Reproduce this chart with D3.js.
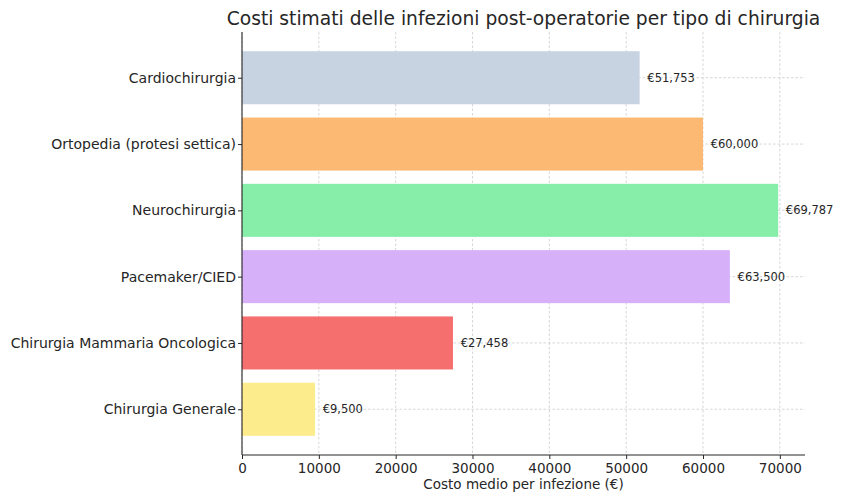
<!DOCTYPE html>
<html>
<head>
<meta charset="utf-8">
<script src="https://cdn.jsdelivr.net/npm/d3@7"></script>
<style>
  body { margin: 0; background: #fff; }
  svg text { font-family: "DejaVu Sans", sans-serif; fill: #262626; }
</style>
</head>
<body>
<div id="chart"></div>
<script>
// data
var categories = ["Cardiochirurgia", "Ortopedia (protesi settica)", "Neurochirurgia",
  "Pacemaker/CIED", "Chirurgia Mammaria Oncologica", "Chirurgia Generale"];
var costs = [51753, 60000, 69787, 63500, 27458, 9500];
var barColors = ["#c8d3e1", "#fbb974", "#87eeaa", "#d6b1fa", "#f56f6f", "#fdec8b"];
var xTicks = [0, 10000, 20000, 30000, 40000, 50000, 60000, 70000];

var width = 846, height = 493;
var mLeft = 242, mRight = 805, mTop = 32, mBottom = 455;

var svg = d3.select("#chart").append("svg")
  .attr("width", width)
  .attr("height", height);

// x scale with matplotlib-like 5% margin on the right
var xMax = d3.max(costs) * 1.05;
var x = d3.scaleLinear().domain([0, xMax]).range([mLeft, mRight]);

// y positions as in barh: index 0 at the top, bar height 0.8
var n = categories.length;
var pad = 0.05 * (n - 0.2);
var y = d3.scaleLinear().domain([-0.4 - pad, n - 1 + 0.4 + pad]).range([mTop, mBottom]);
var barH = y(0.8) - y(0);

// grid
svg.append("g").selectAll("line").data(xTicks).enter().append("line")
  .attr("x1", d => x(d)).attr("x2", d => x(d))
  .attr("y1", mTop).attr("y2", mBottom)
  .attr("stroke", "#c4c4c4").attr("stroke-width", 0.7)
  .attr("stroke-dasharray", "2.5,2");

svg.append("g").selectAll("line").data(categories).enter().append("line")
  .attr("x1", mLeft).attr("x2", mRight)
  .attr("y1", (d, i) => y(i)).attr("y2", (d, i) => y(i))
  .attr("stroke", "#c4c4c4").attr("stroke-width", 0.7)
  .attr("stroke-dasharray", "2.5,2");

// bars
svg.append("g").selectAll("rect").data(costs).enter().append("rect")
  .attr("x", x(0))
  .attr("y", (d, i) => y(i) - barH / 2)
  .attr("width", d => x(d) - x(0))
  .attr("height", barH)
  .attr("fill", (d, i) => barColors[i]);

// value labels
svg.append("g").selectAll("text").data(costs).enter().append("text")
  .attr("x", d => x(d + 1000))
  .attr("y", (d, i) => y(i))
  .attr("dy", "0.35em")
  .attr("font-size", "11.5px")
  .text(d => "€" + d3.format(",")(d));

// axes
var xAxis = d3.axisBottom(x).tickValues(xTicks).tickFormat(d3.format("d")).tickSize(4).tickPadding(4);
var gx = svg.append("g").attr("transform", "translate(0," + mBottom + ")").call(xAxis);
gx.select(".domain").attr("d", "M" + mLeft + ",0H" + mRight).attr("stroke", "#262626").attr("stroke-width", 1.1);
gx.selectAll("text").attr("font-size", "13.5px").attr("font-family", "DejaVu Sans").attr("fill", "#262626");
gx.selectAll(".tick line").attr("stroke", "#262626");

var yAxis = d3.axisLeft(y).tickValues(d3.range(n)).tickFormat(i => categories[i]).tickSize(4).tickPadding(2);
var gy = svg.append("g").attr("transform", "translate(" + mLeft + ",0)").call(yAxis);
gy.select(".domain").attr("d", "M0," + mTop + "V" + mBottom).attr("stroke", "#262626").attr("stroke-width", 1.1);
gy.selectAll("text").attr("font-size", "14px").attr("font-family", "DejaVu Sans").attr("fill", "#262626");
gy.selectAll(".tick line").attr("stroke", "#262626");

// titles
svg.append("text")
  .attr("x", (mLeft + mRight) / 2).attr("y", 25)
  .attr("text-anchor", "middle")
  .attr("font-size", "18.7px")
  .text("Costi stimati delle infezioni post-operatorie per tipo di chirurgia");

svg.append("text")
  .attr("x", (mLeft + mRight) / 2).attr("y", 489)
  .attr("text-anchor", "middle")
  .attr("font-size", "13.5px")
  .text("Costo medio per infezione (€)");
</script>
</body>
</html>
